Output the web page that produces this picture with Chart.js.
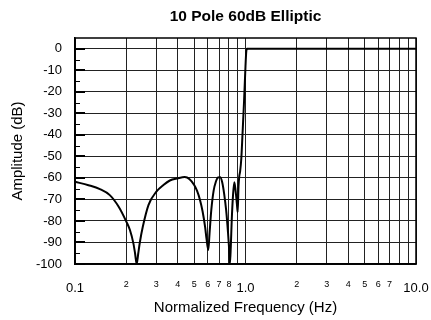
<!DOCTYPE html>
<html><head><meta charset="utf-8">
<script src="https://cdn.jsdelivr.net/npm/chart.js@4.4.1/dist/chart.umd.min.js"></script>
<style>html,body{margin:0;padding:0;background:#fff;}</style>
</head><body>
<canvas id="c" width="431" height="320"></canvas>
<script>
const chartTitle = '10 Pole 60dB Elliptic';
const xAxisTitle = 'Normalized Frequency (Hz)';
const yAxisTitle = 'Amplitude (dB)';

const freq = [0.10, 0.12, 0.14, 0.16, 0.18, 0.20, 0.21, 0.22, 0.225, 0.23, 0.235, 0.24, 0.25, 0.27, 0.30, 0.33, 0.36, 0.40, 0.44, 0.47, 0.50, 0.52, 0.54, 0.56, 0.58, 0.59, 0.605, 0.615, 0.63, 0.65, 0.67, 0.69, 0.71, 0.73, 0.75, 0.77, 0.79, 0.80, 0.81, 0.82, 0.83, 0.845, 0.86, 0.875, 0.89, 0.90, 0.91, 0.92, 0.93, 0.945, 0.96, 0.98, 1.0, 1.01, 1.02, 10];
const amplitude = [-61.8, -63.4, -65.2, -68, -73.3, -80.3, -84.2, -90.4, -95, -100, -95, -90, -82.6, -72.5, -66.4, -63.3, -61.2, -60.2, -59.6, -60.6, -63.3, -66, -70, -75.5, -83, -88, -93.5, -86, -75, -66, -61.8, -59.8, -59.7, -62, -67.5, -75, -85.6, -92, -100, -92, -80, -68, -62, -66, -72, -76, -64, -59, -57, -51, -40, -25, -8, -1.5, 0, 0];

const xTickValues = [0.1, 0.2, 0.3, 0.4, 0.5, 0.6, 0.7, 0.8, 0.9, 1, 2, 3, 4, 5, 6, 7, 8, 9, 10];
const xTickLabels = ['0.1', '2', '3', '4', '5', '6', '7', '8', '', '1.0', '2', '3', '4', '5', '6', '7', '', '', '10.0'];
const yTickValues = [-100, -90, -80, -70, -60, -50, -40, -30, -20, -10, 0];
const yTickLabels = ['-100', '-90', '-80', '-70', '-60', '-50', '-40', '-30', '-20', '-10', '0'];

const FONT = "'Liberation Sans', Arial, Helvetica, sans-serif";

const framePlugin = {
  id: 'frame',
  afterDatasetsDraw(chart) {
    const {ctx, chartArea: a, scales} = chart;
    const y = scales.y;
    ctx.save();
    ctx.strokeStyle = '#000';
    yTickValues.forEach((v, i) => {
      const p = Math.round(y.getPixelForValue(v));
      ctx.lineWidth = 2;
      ctx.beginPath(); ctx.moveTo(a.left, p); ctx.lineTo(a.left + 10, p); ctx.stroke();
      if (i < yTickValues.length - 1) {
        const m = Math.round(y.getPixelForValue((v + yTickValues[i + 1]) / 2)) + 0.5;
        ctx.lineWidth = 1;
        ctx.beginPath(); ctx.moveTo(a.left, m); ctx.lineTo(a.left + 5, m); ctx.stroke();
      }
    });
    ctx.lineWidth = 1.5;
    ctx.strokeRect(a.left, a.top, a.right - a.left, a.bottom - a.top);
    ctx.restore();
  }
};

new Chart(document.getElementById('c'), {
  type: 'line',
  data: {
    datasets: [{
      data: freq.map((f, i) => ({x: f, y: amplitude[i]})),
      borderColor: '#000',
      borderWidth: 2,
      pointRadius: 0,
      cubicInterpolationMode: 'monotone',
      fill: false
    }]
  },
  options: {
    responsive: false,
    animation: false,
    devicePixelRatio: 1,
    layout: {padding: {left: 0, right: 0, top: 0, bottom: 0}},
    plugins: {
      legend: {display: false},
      tooltip: {enabled: false},
      title: {
        display: true,
        text: chartTitle,
        fullSize: false,
        color: '#000',
        font: {family: FONT, size: 15.5, weight: 'bold', lineHeight: 1.2},
        padding: {top: 7.2, bottom: 12.2}
      }
    },
    scales: {
      x: {
        type: 'logarithmic',
        min: 0.1,
        max: 10,
        afterBuildTicks: (s) => { s.ticks = xTickValues.map(v => ({value: v})); },
        afterFit: (s) => { s.height = 56; s.paddingLeft = 0; s.paddingRight = 15; },
        grid: {display: true, drawTicks: false, color: '#222', lineWidth: 1},
        border: {display: true, color: '#000', width: 1.5},
        ticks: {
          autoSkip: false,
          maxRotation: 0,
          minRotation: 0,
          padding: 16,
          color: '#000',
          callback: (v, i) => xTickLabels[i],
          font: (ctx) => {
            const lbl = xTickLabels[ctx.index] || '';
            return lbl.indexOf('.') >= 0
              ? {family: FONT, size: 13, lineHeight: 1.28}
              : {family: FONT, size: 9, lineHeight: 1.11};
          }
        },
        title: {
          display: true,
          text: xAxisTitle,
          color: '#000',
          font: {family: FONT, size: 15, lineHeight: 1.2},
          padding: {top: 0, bottom: 3}
        }
      },
      y: {
        type: 'linear',
        min: -100,
        max: 5,
        afterBuildTicks: (s) => { s.ticks = yTickValues.map(v => ({value: v})); },
        afterFit: (s) => { s.width = 75; },
        grid: {display: true, drawTicks: false, color: '#222', lineWidth: 1},
        border: {display: true, color: '#000', width: 1.5},
        ticks: {
          padding: 13,
          color: '#000',
          font: {family: FONT, size: 13},
          callback: (v, i) => yTickLabels[i]
        },
        title: {
          display: true,
          text: yAxisTitle,
          color: '#000',
          font: {family: FONT, size: 15, lineHeight: 1.2},
          padding: {top: 8.5, bottom: 0}
        }
      }
    }
  },
  plugins: [framePlugin]
});
</script>
</body></html>
